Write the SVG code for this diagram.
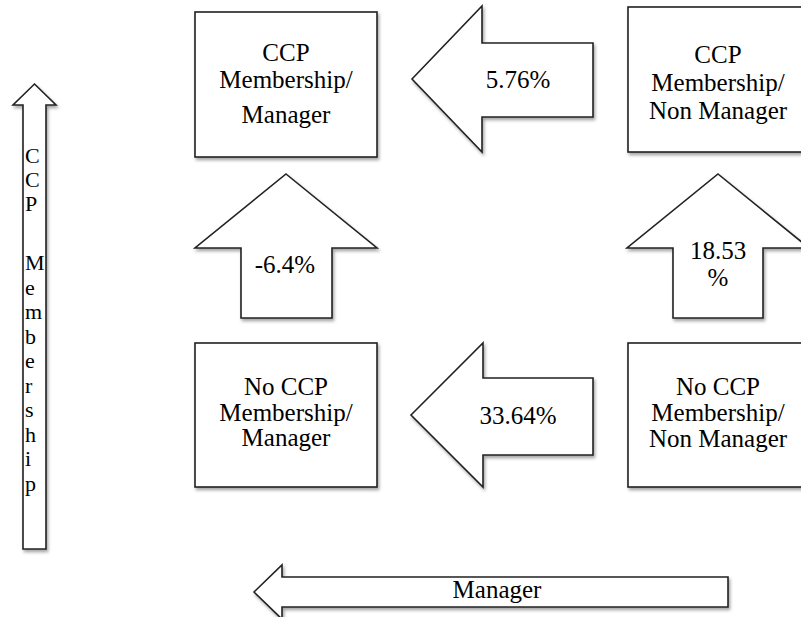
<svg xmlns="http://www.w3.org/2000/svg" width="801" height="617" viewBox="0 0 801 617">
<defs>
<filter id="sh" x="-10%" y="-10%" width="125%" height="125%">
<feDropShadow dx="1.5" dy="2.5" stdDeviation="1.8" flood-color="#000" flood-opacity="0.35"/>
</filter>
<style>
.s{fill:#fff;stroke:#222;stroke-width:1.6;filter:url(#sh)}
.t{font-family:"Liberation Serif","Times New Roman",serif;font-size:25px;fill:#000;text-anchor:middle}
.v{font-family:"Liberation Serif","Times New Roman",serif;font-size:22px;fill:#000}
</style>
</defs>
<rect width="801" height="617" fill="#fff"/>
<g id="axis-ccp">
<path class="s" d="M34.5,84 L56,105 L46,105 L46,549 L23,549 L23,105 L13,105 Z"/>
<text class="v" x="25"><tspan x="25" y="163">C</tspan><tspan x="25" y="187">C</tspan><tspan x="25" y="211">P</tspan><tspan x="25" y="270">M</tspan><tspan x="25" y="294.5">e</tspan><tspan x="25" y="319">m</tspan><tspan x="25" y="343.5">b</tspan><tspan x="25" y="368">e</tspan><tspan x="25" y="392.5">r</tspan><tspan x="25" y="417">s</tspan><tspan x="25" y="441.5">h</tspan><tspan x="25" y="466">i</tspan><tspan x="25" y="490.5">p</tspan></text>
</g>
<g id="axis-manager">
<path class="s" d="M254,592 L282,565 L282,577 L728,577 L728,607 L282,607 L282,619 Z"/>
<text class="t" x="497" y="598">Manager</text>
</g>
<g id="ccp-manager">
<rect class="s" x="195" y="12" width="182" height="145"/>
<text class="t" x="286" y="61">CCP</text>
<text class="t" x="286" y="88">Membership/</text>
<text class="t" x="286" y="123">Manager</text>
</g>
<g id="ccp-nonmanager">
<rect class="s" x="628" y="7" width="182" height="145"/>
<text class="t" x="718" y="63">CCP</text>
<text class="t" x="718" y="91">Membership/</text>
<text class="t" x="718" y="119">Non Manager</text>
</g>
<g id="noccp-manager">
<rect class="s" x="195" y="343" width="182" height="144"/>
<text class="t" x="286" y="395">No CCP</text>
<text class="t" x="286" y="421">Membership/</text>
<text class="t" x="286" y="446">Manager</text>
</g>
<g id="noccp-nonmanager">
<rect class="s" x="628" y="343" width="182" height="144"/>
<text class="t" x="718" y="395">No CCP</text>
<text class="t" x="718" y="421">Membership/</text>
<text class="t" x="718" y="447">Non Manager</text>
</g>
<g id="connectors">
<g id="arrow-576">
<path class="s" d="M412,79 L482,6 L482,43 L593,43 L593,117 L482,117 L482,152 Z"/>
<text class="t" x="518" y="88">5.76%</text>
</g>
<g id="arrow-3364">
<path class="s" d="M411,415 L483,343 L483,378 L593,378 L593,455 L483,455 L483,487 Z"/>
<text class="t" x="518" y="424">33.64%</text>
</g>
<g id="arrow-64">
<path class="s" d="M286,174 L377,248 L332,248 L332,318 L241,318 L241,248 L195,248 Z"/>
<text class="t" x="285" y="273">-6.4%</text>
</g>
<g id="arrow-1853">
<path class="s" d="M718,174 L809,248 L763,248 L763,318 L673,318 L673,248 L627,248 Z"/>
<text class="t" x="718" y="259">18.53</text>
<text class="t" x="718" y="286">%</text>
</g>
</g>
</svg>
